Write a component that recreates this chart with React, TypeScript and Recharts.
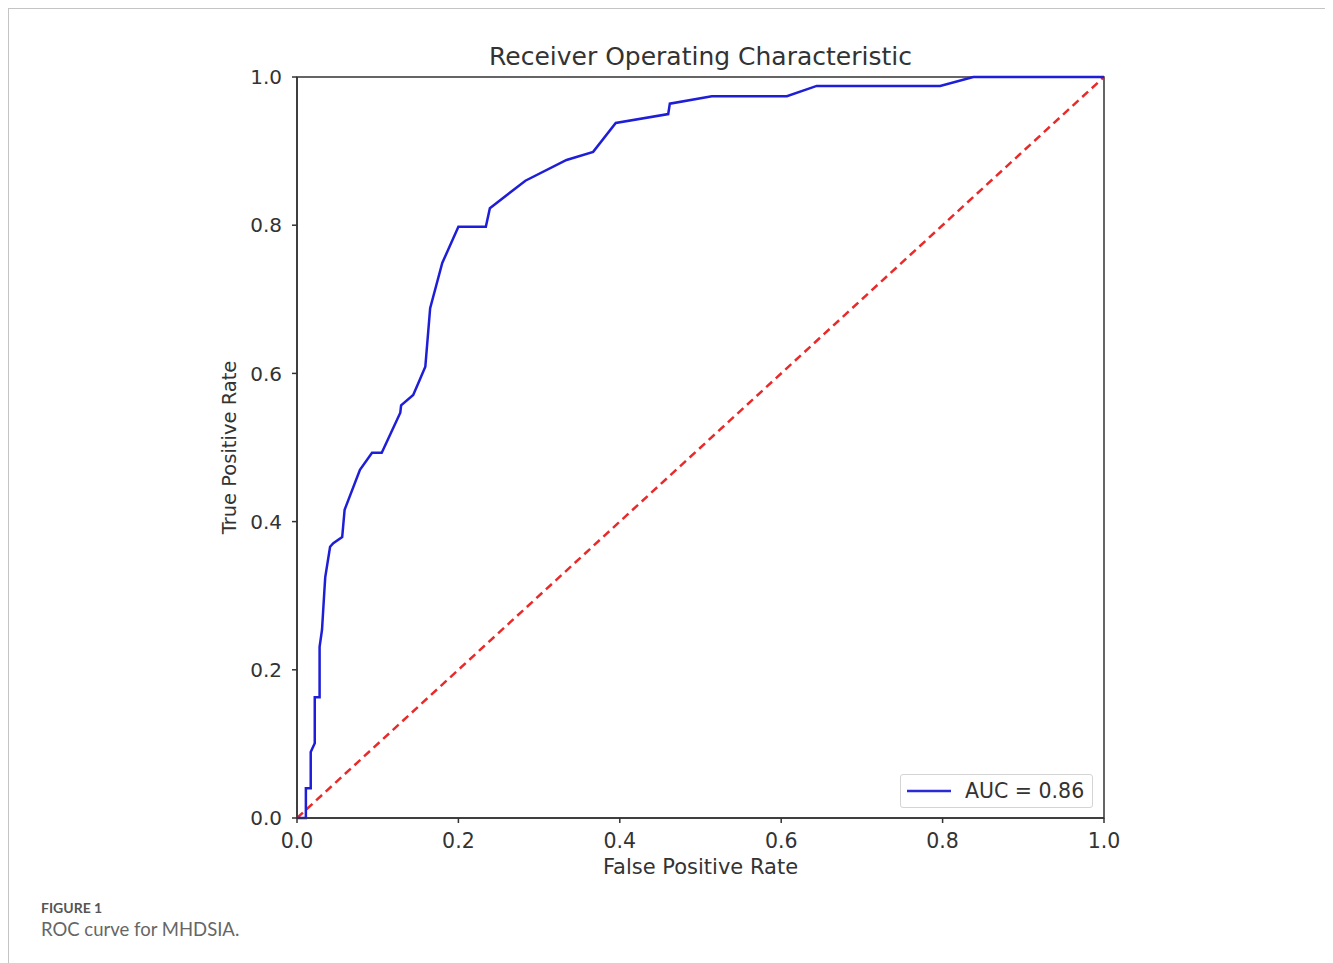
import React from 'react';
import { LineChart, Line, XAxis, YAxis, ReferenceLine, ReferenceArea, Legend } from 'recharts';

const fpr = [0, 0.011, 0.011, 0.017, 0.017, 0.022, 0.022, 0.028, 0.028, 0.031, 0.034, 0.035, 0.041, 0.045, 0.056, 0.059, 0.078, 0.093, 0.105, 0.128, 0.129, 0.144, 0.152, 0.159, 0.165, 0.180, 0.200, 0.234, 0.239, 0.283, 0.334, 0.367, 0.395, 0.460, 0.462, 0.514, 0.607, 0.644, 0.797, 0.838, 1.0];
const tpr = [0, 0, 0.040, 0.040, 0.089, 0.101, 0.163, 0.163, 0.231, 0.254, 0.308, 0.325, 0.366, 0.371, 0.379, 0.416, 0.470, 0.493, 0.493, 0.547, 0.557, 0.571, 0.591, 0.609, 0.688, 0.749, 0.798, 0.798, 0.823, 0.860, 0.888, 0.899, 0.938, 0.950, 0.964, 0.974, 0.974, 0.988, 0.988, 1.0, 1.0];
const ticks = [0, 0.2, 0.4, 0.6, 0.8, 1.0];
const aucLabel = 'AUC = 0.86';
const title = 'Receiver Operating Characteristic';
const xLabel = 'False Positive Rate';
const yLabel = 'True Positive Rate';
const figLabel = 'FIGURE 1';
const caption = 'ROC curve for MHDSIA.';

const data = fpr.map((x, i) => ({ fpr: x, tpr: tpr[i] }));

const FONT = 'DejaVu Sans';
const TXT = '#333';
const AX = '#333';

const LegendBox = () => (
  <div style={{ border: '1px solid #d4d4d4', borderRadius: 3, width: 191, height: 32, display: 'flex', alignItems: 'center', background: '#fff', fontFamily: FONT, fontSize: 20.5, color: TXT, whiteSpace: 'nowrap' }}>
    <svg width={58} height={10} style={{ marginLeft: 6 }}>
      <line x1={0} y1={5} x2={44} y2={5} stroke="#2a2ad6" strokeWidth={2.5} />
    </svg>
    <span>{aucLabel}</span>
  </div>
);

export default function App() {
  return (
    <div style={{ position: 'relative', width: 1323, height: 955, border: '1px solid #c4c4c4', borderBottom: 'none', boxSizing: 'border-box', background: '#fff' }}>
      <div style={{ position: 'absolute', left: 0, top: 33, width: 1383, textAlign: 'center', fontFamily: FONT, fontSize: 25, color: TXT }}>{title}</div>
      <div style={{ position: 'absolute', left: 0, top: 0 }}>
        <LineChart width={1120} height={890} data={data} margin={{ top: 68, left: 218, right: 25, bottom: 0 }}>
          <XAxis dataKey="fpr" type="number" domain={[0, 1]} ticks={ticks} tickFormatter={(v: number) => v.toFixed(1)}
            stroke={AX} strokeWidth={1.5} tickSize={5} tickMargin={10} height={81}
            tick={{ fill: TXT, fontSize: 20.5, fontFamily: FONT }}
            label={{ value: xLabel, position: 'insideBottom', offset: 25, fill: TXT, fontSize: 21, fontFamily: FONT }} />
          <YAxis type="number" domain={[0, 1]} ticks={ticks} tickFormatter={(v: number) => v.toFixed(1)}
            stroke={AX} strokeWidth={1.5} tickSize={5} tickMargin={10} width={70}
            tick={{ fill: TXT, fontSize: 20, fontFamily: FONT }}
            label={{ value: yLabel, angle: -90, position: 'insideLeft', offset: 2, fill: TXT, fontSize: 19.5, fontFamily: FONT, style: { textAnchor: 'middle' } }} />
          <ReferenceArea x1={0} x2={1} y1={0} y2={1} fill="none" stroke={AX} strokeWidth={1.5} ifOverflow="visible" />
          <ReferenceLine segment={[{ x: 0, y: 0 }, { x: 1, y: 1 }]} stroke="#e82a2a" strokeWidth={2.5} strokeDasharray="8 5" ifOverflow="visible" />
          <Line type="linear" dataKey="tpr" stroke="#1e1ed8" strokeWidth={2.5} dot={false} isAnimationActive={false} name={aucLabel} />
          <Legend layout="horizontal" verticalAlign="middle" align="center" content={() => <LegendBox />}
            wrapperStyle={{ left: 891, top: 765, width: 'auto' }} />
        </LineChart>
      </div>
      <div style={{ position: 'absolute', left: 32, top: 890, fontFamily: 'Lato, sans-serif', fontWeight: 700, fontSize: 14, color: '#555' }}>{figLabel}</div>
      <div style={{ position: 'absolute', left: 32, top: 909, fontFamily: 'Lato, sans-serif', fontSize: 18.5, color: '#666' }}>{caption}</div>
    </div>
  );
}
